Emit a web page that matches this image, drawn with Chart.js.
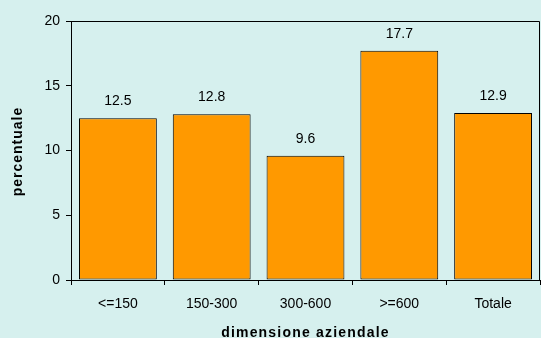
<!DOCTYPE html>
<html>
<head>
<meta charset="utf-8">
<script src="https://cdn.jsdelivr.net/npm/chart.js@4/dist/chart.umd.min.js"></script>
<style>
  html, body { margin: 0; padding: 0; background: #D6F0EE; }
  #wrap { width: 541px; height: 338px; position: relative; }
</style>
</head>
<body>
<div id="wrap"><canvas id="c" width="541" height="338"></canvas></div>
<script>
const categories = ['<=150', '150-300', '300-600', '>=600', 'Totale'];
const percentuale = [12.5, 12.8, 9.6, 17.7, 12.9];
const yTicks = [0, 5, 10, 15, 20];
const xTitle = 'dimensione aziendale';
const yTitle = 'percentuale';

const FONT = "'Liberation Sans', Arial, sans-serif";

// Frame on the top and right of the plot area
const frame = {
  id: 'frame',
  afterDatasetsDraw(chart) {
    const { ctx, chartArea: a } = chart;
    ctx.save();
    ctx.strokeStyle = '#000';
    ctx.lineWidth = 1;
    ctx.beginPath();
    ctx.moveTo(a.left, a.top + 0.5);
    ctx.lineTo(a.right - 0.5, a.top + 0.5);
    ctx.lineTo(a.right - 0.5, a.bottom);
    ctx.stroke();
    ctx.restore();
  }
};

// Value labels above each bar
const valueLabels = {
  id: 'valueLabels',
  afterDatasetsDraw(chart) {
    const { ctx } = chart;
    const meta = chart.getDatasetMeta(0);
    ctx.save();
    ctx.fillStyle = '#000';
    ctx.font = '14px ' + FONT;
    ctx.textAlign = 'center';
    ctx.textBaseline = 'bottom';
    meta.data.forEach((bar, i) => {
      ctx.fillText(percentuale[i].toFixed(1), bar.x, bar.y - 10);
    });
    ctx.restore();
  }
};

// Letter-spaced bold axis titles
const axisTitles = {
  id: 'axisTitles',
  afterDraw(chart) {
    const { ctx, chartArea: a } = chart;
    ctx.save();
    ctx.fillStyle = '#000';
    ctx.font = 'bold 14px ' + FONT;
    ctx.letterSpacing = '1.2px';
    ctx.textAlign = 'center';
    ctx.textBaseline = 'alphabetic';
    ctx.fillText(xTitle, (a.left + a.right) / 2, 337);
    ctx.translate(22, (a.top + a.bottom) / 2 + 1);
    ctx.rotate(-Math.PI / 2);
    ctx.letterSpacing = '1px';
    ctx.fillText(yTitle, 0, 0);
    ctx.restore();
  }
};

new Chart(document.getElementById('c'), {
  type: 'bar',
  data: {
    labels: categories,
    datasets: [{
      data: percentuale,
      backgroundColor: '#FF9900',
      borderColor: '#000',
      borderWidth: 1,
      borderSkipped: false,
      barPercentage: 0.83,
      categoryPercentage: 1.0
    }]
  },
  options: {
    responsive: false,
    animation: false,
    layout: { padding: { top: 21, right: 1, left: 0, bottom: 0 } },
    plugins: { legend: { display: false }, tooltip: { enabled: false } },
    scales: {
      x: {
        grid: { display: true, drawOnChartArea: false, offset: true, tickLength: 5, color: '#000' },
        border: { display: true, color: '#000', width: 1 },
        ticks: { color: '#000', font: { family: FONT, size: 14 }, padding: 11, maxRotation: 0 },
        title: { display: false },
        afterFit(s) { s.height = 58; }
      },
      y: {
        min: 0, max: 20,
        afterBuildTicks(s) { s.ticks = yTicks.map(v => ({ value: v })); },
        grid: { display: true, drawOnChartArea: false, tickLength: 5, color: '#000' },
        border: { display: true, color: '#000', width: 1 },
        ticks: { color: '#000', font: { family: FONT, size: 14 }, padding: 6 },
        title: { display: false },
        afterFit(s) { s.width = 71; }
      }
    }
  },
  plugins: [frame, valueLabels, axisTitles]
});
</script>
</body>
</html>
